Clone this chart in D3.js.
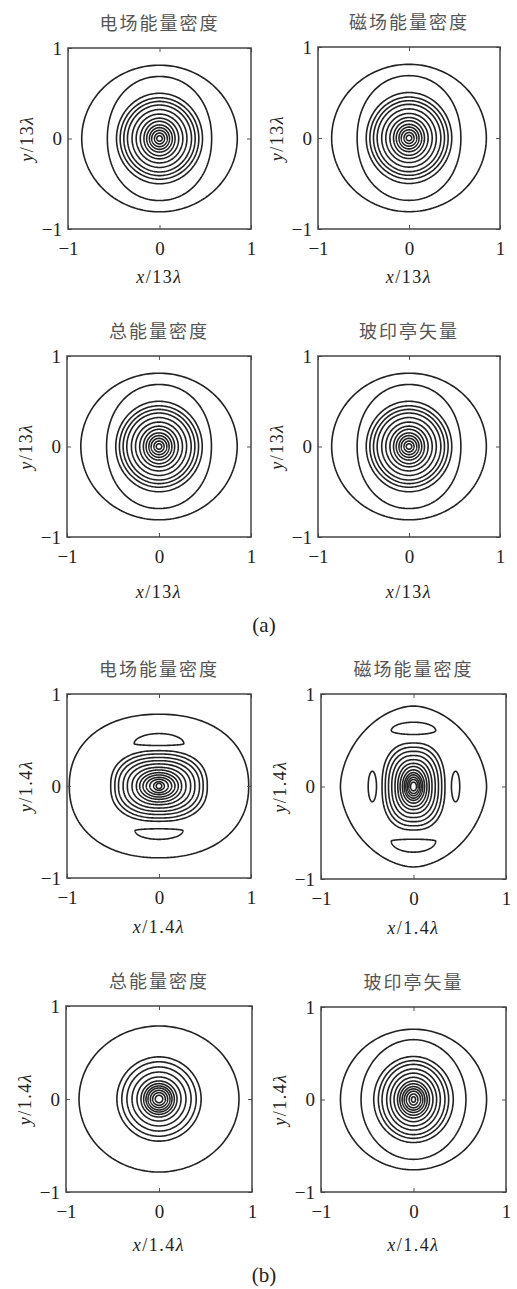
<!DOCTYPE html>
<html><head><meta charset="utf-8">
<script src="https://cdn.jsdelivr.net/npm/d3@7"></script>
<style>body{margin:0;background:#fff}</style>
</head><body><svg id="c" width="517" height="1289"></svg>
<script>
// ---------- data ----------
const titles = ["电场能量密度", "磁场能量密度", "总能量密度", "玻印亭矢量"];
const tickValues = [-1, 0, 1];
const scaleTextA = "13";
const scaleTextB = "1.4";
const groupLabels = ["(a)", "(b)"];

// (a) contour half-axes (x/13λ, y/13λ units), same shape in the four panels
const aRx = [0.85, 0.57, 0.47, 0.43, 0.39, 0.35, 0.30, 0.255, 0.21, 0.17, 0.14, 0.11, 0.085, 0.055, 0.03];
const aRy = [0.81, 0.685, 0.50, 0.45, 0.41, 0.37, 0.32, 0.27, 0.225, 0.19, 0.15, 0.12, 0.09, 0.06, 0.03];
const aN  = [2, 2.1, 2, 2, 2, 2, 2, 2, 2, 2, 2, 2, 2, 2, 2];

// (b) electric energy density
const bERx = [0.975, 0.525, 0.48, 0.44, 0.39, 0.344, 0.293, 0.246, 0.21, 0.174, 0.138, 0.10, 0.058, 0.03];
const bERy = [0.78, 0.384, 0.348, 0.31, 0.275, 0.24, 0.203, 0.174, 0.145, 0.12, 0.094, 0.072, 0.047, 0.029];
const bEN  = [2.2, 2.45, 2.4, 2.35, 2.3, 2.25, 2.2, 2.1, 2.05, 2, 2, 2, 2, 2];
const bELobes = [
  {axis: "y", c: 0.46, w: 0.27, ho: 0.11, hi: 0.02},
  {axis: "y", c: -0.485, w: 0.26, ho: 0.095, hi: 0.02}
];

// (b) magnetic energy density
const bHRx = [0.79, 0.34, 0.305, 0.27, 0.235, 0.2, 0.17, 0.145, 0.12, 0.1, 0.083, 0.066, 0.05, 0.032];
const bHRy = [0.87, 0.47, 0.425, 0.38, 0.335, 0.29, 0.25, 0.216, 0.18, 0.15, 0.126, 0.10, 0.076, 0.047];
const bHN  = [1.8, 2.5, 2.45, 2.4, 2.35, 2.3, 2.2, 2.1, 2.05, 2, 2, 2, 2, 2];
const bHLobes = [
  {axis: "y", c: 0.605, w: 0.24, ho: 0.09, hi: 0.043},
  {axis: "y", c: -0.59, w: 0.24, ho: 0.12, hi: 0.02},
  {axis: "x", c: -0.445, w: 0.165, ho: 0.045, hi: 0.045},
  {axis: "x", c: 0.455, w: 0.165, ho: 0.045, hi: 0.045}
];

// (b) total energy density
const bWRx = [0.86, 0.453, 0.40, 0.345, 0.29, 0.237, 0.194, 0.165, 0.14, 0.118, 0.093, 0.068, 0.04];
const bWRy = [0.785, 0.453, 0.40, 0.345, 0.29, 0.237, 0.194, 0.165, 0.14, 0.118, 0.093, 0.068, 0.04];
const bWN  = [2, 2, 2, 2, 2, 2, 2, 2, 2, 2, 2, 2, 2];

// (b) Poynting vector
const bSRx = [0.79, 0.567, 0.43, 0.38, 0.34, 0.29, 0.25, 0.21, 0.173, 0.148, 0.123, 0.10, 0.076, 0.047, 0.022];
const bSRy = [0.76, 0.647, 0.465, 0.42, 0.38, 0.33, 0.285, 0.24, 0.2, 0.17, 0.14, 0.115, 0.09, 0.06, 0.03];
const bSN  = [2, 2, 2, 2, 2, 2, 2, 2, 2, 2, 2, 2, 2, 2, 2];

// ---------- layout ----------
const layout = [
  {x0: 68, x1: 251, y0: 48, y1: 229, xl: 48},
  {x0: 318, x1: 500, y0: 47, y1: 229, xl: 48},
  {x0: 67, x1: 251, y0: 356, y1: 537, xl: 55},
  {x0: 318, x1: 500, y0: 356, y1: 537, xl: 55},
  {x0: 67, x1: 251, y0: 694, y1: 878, xl: 49},
  {x0: 321, x1: 506, y0: 694, y1: 879, xl: 49},
  {x0: 66, x1: 252, y0: 1006, y1: 1192, xl: 53},
  {x0: 321, x1: 506, y0: 1007, y1: 1192, xl: 53}
];
const panels = [
  {t: 0, s: scaleTextA, rx: aRx, ry: aRy, n: aN, lobes: []},
  {t: 1, s: scaleTextA, rx: aRx, ry: aRy, n: aN, lobes: []},
  {t: 2, s: scaleTextA, rx: aRx, ry: aRy, n: aN, lobes: []},
  {t: 3, s: scaleTextA, rx: aRx, ry: aRy, n: aN, lobes: []},
  {t: 0, s: scaleTextB, rx: bERx, ry: bERy, n: bEN, lobes: bELobes},
  {t: 1, s: scaleTextB, rx: bHRx, ry: bHRy, n: bHN, lobes: bHLobes},
  {t: 2, s: scaleTextB, rx: bWRx, ry: bWRy, n: bWN, lobes: []},
  {t: 3, s: scaleTextB, rx: bSRx, ry: bSRy, n: bSN, lobes: []}
];

const svg = d3.select("#c");
const ink = "#222";
const serif = "'Liberation Serif','Times New Roman',serif";
const cjk = "'Noto Sans CJK SC','Noto Sans CJK JP',sans-serif";

const angles = d3.range(0, 360, 2).map(d => d * Math.PI / 180);
function ringPts(a, b, n) {
  return angles.map(t => {
    const c = Math.cos(t), s = Math.sin(t);
    return [a * Math.sign(c) * Math.pow(Math.abs(c), 2 / n),
            b * Math.sign(s) * Math.pow(Math.abs(s), 2 / n)];
  });
}
function lobePts(l) {
  const dir = Math.sign(l.c);
  return angles.map(t => {
    const u = l.w * Math.cos(t);
    const s = Math.sin(t);
    const v = l.c + dir * (s >= 0 ? l.ho : l.hi) * s;
    return l.axis === "y" ? [u, v] : [v, u];
  });
}

panels.forEach((p, i) => {
  const L = layout[i];
  const x = d3.scaleLinear().domain([-1, 1]).range([L.x0, L.x1]);
  const y = d3.scaleLinear().domain([-1, 1]).range([L.y1, L.y0]);
  const g = svg.append("g");
  const line = d3.line().x(d => x(d[0])).y(d => y(d[1])).curve(d3.curveLinearClosed);

  // contours
  p.rx.forEach((r, k) => {
    g.append("path").attr("d", line(ringPts(r, p.ry[k], p.n[k])))
      .attr("fill", "none").attr("stroke", ink).attr("stroke-width", 1.6);
  });
  p.lobes.forEach(l => {
    g.append("path").attr("d", line(lobePts(l)))
      .attr("fill", "none").attr("stroke", ink).attr("stroke-width", 1.6);
  });

  // axes
  const fmt = d3.format("d");
  const ax = [
    d3.axisBottom(x).tickValues(tickValues).tickSize(-4).tickPadding(13).tickFormat(fmt),
    d3.axisLeft(y).tickValues(tickValues).tickSize(-4).tickPadding(6).tickFormat(fmt),
    d3.axisTop(x).tickValues(tickValues).tickSize(-4).tickFormat(""),
    d3.axisRight(y).tickValues(tickValues).tickSize(-4).tickFormat("")
  ];
  const tr = [`translate(0,${L.y1})`, `translate(${L.x0},0)`, `translate(0,${L.y0})`, `translate(${L.x1},0)`];
  ax.forEach((a, k) => {
    const ga = g.append("g").attr("transform", tr[k]).call(a);
    ga.select(".domain").remove();
    ga.selectAll("line").attr("stroke", "#555").attr("stroke-width", 1);
    ga.selectAll("text").attr("fill", ink).style("font-family", serif).style("font-size", "19px");
  });
  g.append("rect").attr("x", L.x0).attr("y", L.y0)
    .attr("width", L.x1 - L.x0).attr("height", L.y1 - L.y0)
    .attr("fill", "none").attr("stroke", "#444").attr("stroke-width", 1.5);

  // title
  g.append("text").attr("x", (L.x0 + L.x1) / 2).attr("y", L.y0 - 18)
    .attr("text-anchor", "middle").attr("fill", "#555")
    .style("font-family", cjk).style("font-size", "18px").style("letter-spacing", "2px")
    .text(titles[p.t]);

  // x label
  const xl = g.append("text").attr("x", (L.x0 + L.x1) / 2).attr("y", L.y1 + L.xl + 6)
    .attr("text-anchor", "middle").attr("fill", ink)
    .style("font-family", serif).style("font-size", "18px").style("letter-spacing", "1.5px");
  xl.append("tspan").style("font-style", "italic").text("x");
  xl.append("tspan").text("/" + p.s);
  xl.append("tspan").style("font-style", "italic").text("λ");

  // y label
  const yc = (L.y0 + L.y1) / 2, xc = L.x0 - 41;
  const yl = g.append("text").attr("transform", `translate(${xc + 6},${yc}) rotate(-90)`)
    .attr("text-anchor", "middle").attr("fill", ink)
    .style("font-family", serif).style("font-size", "18px").style("letter-spacing", "1.5px");
  yl.append("tspan").style("font-style", "italic").text("y");
  yl.append("tspan").text("/" + p.s);
  yl.append("tspan").style("font-style", "italic").text("λ");
});

// group labels
const groupY = [632, 1282];
groupLabels.forEach((t, i) => {
  svg.append("text").attr("x", 264).attr("y", groupY[i]).attr("text-anchor", "middle")
    .attr("fill", ink).style("font-family", serif).style("font-size", "21px").text(t);
});
</script>
</body></html>
